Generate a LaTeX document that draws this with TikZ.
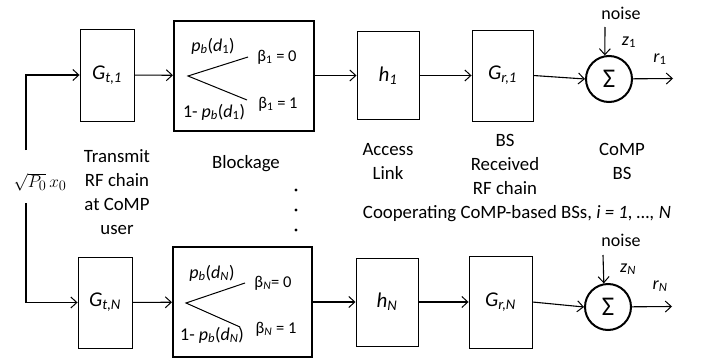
\documentclass[tikz,border=0pt]{standalone}
\usepackage{fontspec}
\setmainfont{Carlito}
\usetikzlibrary{arrows.meta}
\newcommand\vsub[2]{\textit{#1}\textsubscript{\textit{#2}}}
\begin{document}
\begin{tikzpicture}[x=1pt,y=-1pt,
  arr/.style={line width=1.1pt,-{Straight Barb[length=6pt,width=11pt,line width=1pt]}},
  blkbox/.style={draw,line width=0.9pt,minimum width=54pt,minimum height=92pt,inner sep=0pt,font=\fontsize{21}{24}\selectfont},
  chbox/.style={draw,line width=1pt,minimum width=62pt,minimum height=88pt,inner sep=0pt,font=\fontsize{21}{24}\selectfont},
  bkbox/.style={draw,line width=2pt,minimum width=140pt,minimum height=110pt,inner sep=0pt},
  sumc/.style={draw,circle,line width=2pt,minimum size=46pt,inner sep=0pt,font=\fontsize{27}{28}\selectfont},
  lbl/.style={align=center,font=\fontsize{18.8}{24}\selectfont,inner sep=0pt},
  small/.style={font=\fontsize{18}{20}\selectfont,inner sep=0pt},
  tiny/.style={font=\fontsize{16.5}{18}\selectfont,inner sep=0pt},
  branch/.style={line width=1pt}
]
\useasboundingbox (0,0) rectangle (702,364);
% ---- top row
\node[blkbox] (Gt1) at (107,75) {\vsub{G}{t,1}};
\node[bkbox] (B1) at (244,75.5) {};
\node[chbox] (h1) at (388,75.5) {\vsub{h}{1}};
\node[blkbox,minimum width=61pt,minimum height=91pt] (Gr1) at (502.5,75.5) {\vsub{G}{r,1}};
\node[sumc] (S1) at (609,79) {Σ};
\coordinate (v1) at (188,76);
\coordinate (u1) at (248,57);
\coordinate (l1) at (247,100);
\draw[branch] (u1) -- (v1) -- (l1);
\node[small] (pb1) at (213,46) {\textit{p}\textsubscript{\textit{b}}(\textit{d}\textsubscript{1})};
\node[small] (pc1) at (214,112) {1- \textit{p}\textsubscript{\textit{b}}(\textit{d}\textsubscript{1})};
\node[tiny] (b10) at (277,57) {β\textsubscript{1} = 0};
\node[tiny] (b11) at (278,104) {β\textsubscript{1} = 1};
\node[small] (n1) at (621,13) {noise};
\coordinate (n1s) at (605,27);
\node[small] (z1) at (629,42) {\textit{z}\textsubscript{1}};
\node[small] (r1) at (660,59) {\textit{r}\textsubscript{1}};
\coordinate (o1) at (673,78.5);
\draw[arr] (Gt1) -- (B1);
\draw[arr] (B1) -- (h1);
\draw[arr] (h1) -- (Gr1);
\draw[arr] (Gr1.east) -- (S1.west);
\draw[arr] (S1) -- (o1);
\draw[arr] (n1s) -- (S1.100);
% ---- bottom row
\node[blkbox,minimum height=91pt] (GtN) at (105,302.5) {\vsub{G}{t,N}};
\node[bkbox,minimum width=139pt] (BN) at (242.5,302) {};
\node[chbox] (hN) at (387,302) {\vsub{h}{N}};
\node[blkbox,minimum width=63pt,minimum height=92pt] (GrN) at (500.5,302) {\vsub{G}{r,N}};
\node[sumc] (SN) at (608,307) {Σ};
\coordinate (vN) at (186,303);
\coordinate (uN) at (245,283);
\coordinate (lN) at (240,327);
\draw[branch] (uN) -- (vN) -- (lN);
\node[small] (pbN) at (212,273) {\textit{p}\textsubscript{\textit{b}}(\textit{d}\textsubscript{\textit{N}})};
\node[small] (pcN) at (212,335) {1- \textit{p}\textsubscript{\textit{b}}(\textit{d}\textsubscript{\textit{N}})};
\node[tiny] (bN0) at (273,283) {β\textsubscript{\textit{N}}= 0};
\node[tiny] (bN1) at (276,329) {β\textsubscript{\textit{N}} = 1};
\node[small] (nN) at (621,240) {noise};
\coordinate (nNs) at (603,255);
\node[small] (zN) at (628,269) {\textit{z}\textsubscript{\textit{N}}};
\node[small] (rN) at (660,286) {\textit{r}\textsubscript{\textit{N}}};
\coordinate (oN) at (672,306.5);
\draw[arr] (GtN) -- (BN);
\draw[arr] (BN) -- (hN);
\draw[arr] (hN) -- (GrN);
\draw[arr] (GrN.east) -- (SN.west);
\draw[arr] (SN) -- (oN);
\draw[arr] (nNs) -- (SN.100);
% ---- input
\node[inner sep=0pt,font=\fontsize{19}{20}\selectfont] (x0) at (40,182) {$\sqrt{P_0}\,x_0$};
\coordinate (vt) at (26,150);
\coordinate (vb) at (26,203);
\draw[arr] (vt) |- (Gt1.west);
\draw[arr] (vb) |- (GtN.west);
% ---- labels
\node[lbl] (tx) at (117,192) {Transmit\\RF chain\\at CoMP\\user};
\node[lbl] (bl) at (246,164) {Blockage};
\node[lbl] (al) at (388,161) {Access\\Link};
\node[lbl] (bs) at (505,164) {BS\\Received\\RF chain};
\node[lbl] (cb) at (622,161) {CoMP\\BS};
\node[lbl] (co) at (517,214) {Cooperating CoMP-based BSs, \textit{i = 1, …, N}};
\foreach \yy in {190,210,230} \fill (296,\yy) circle (1.6pt);
\end{tikzpicture}
\end{document}
